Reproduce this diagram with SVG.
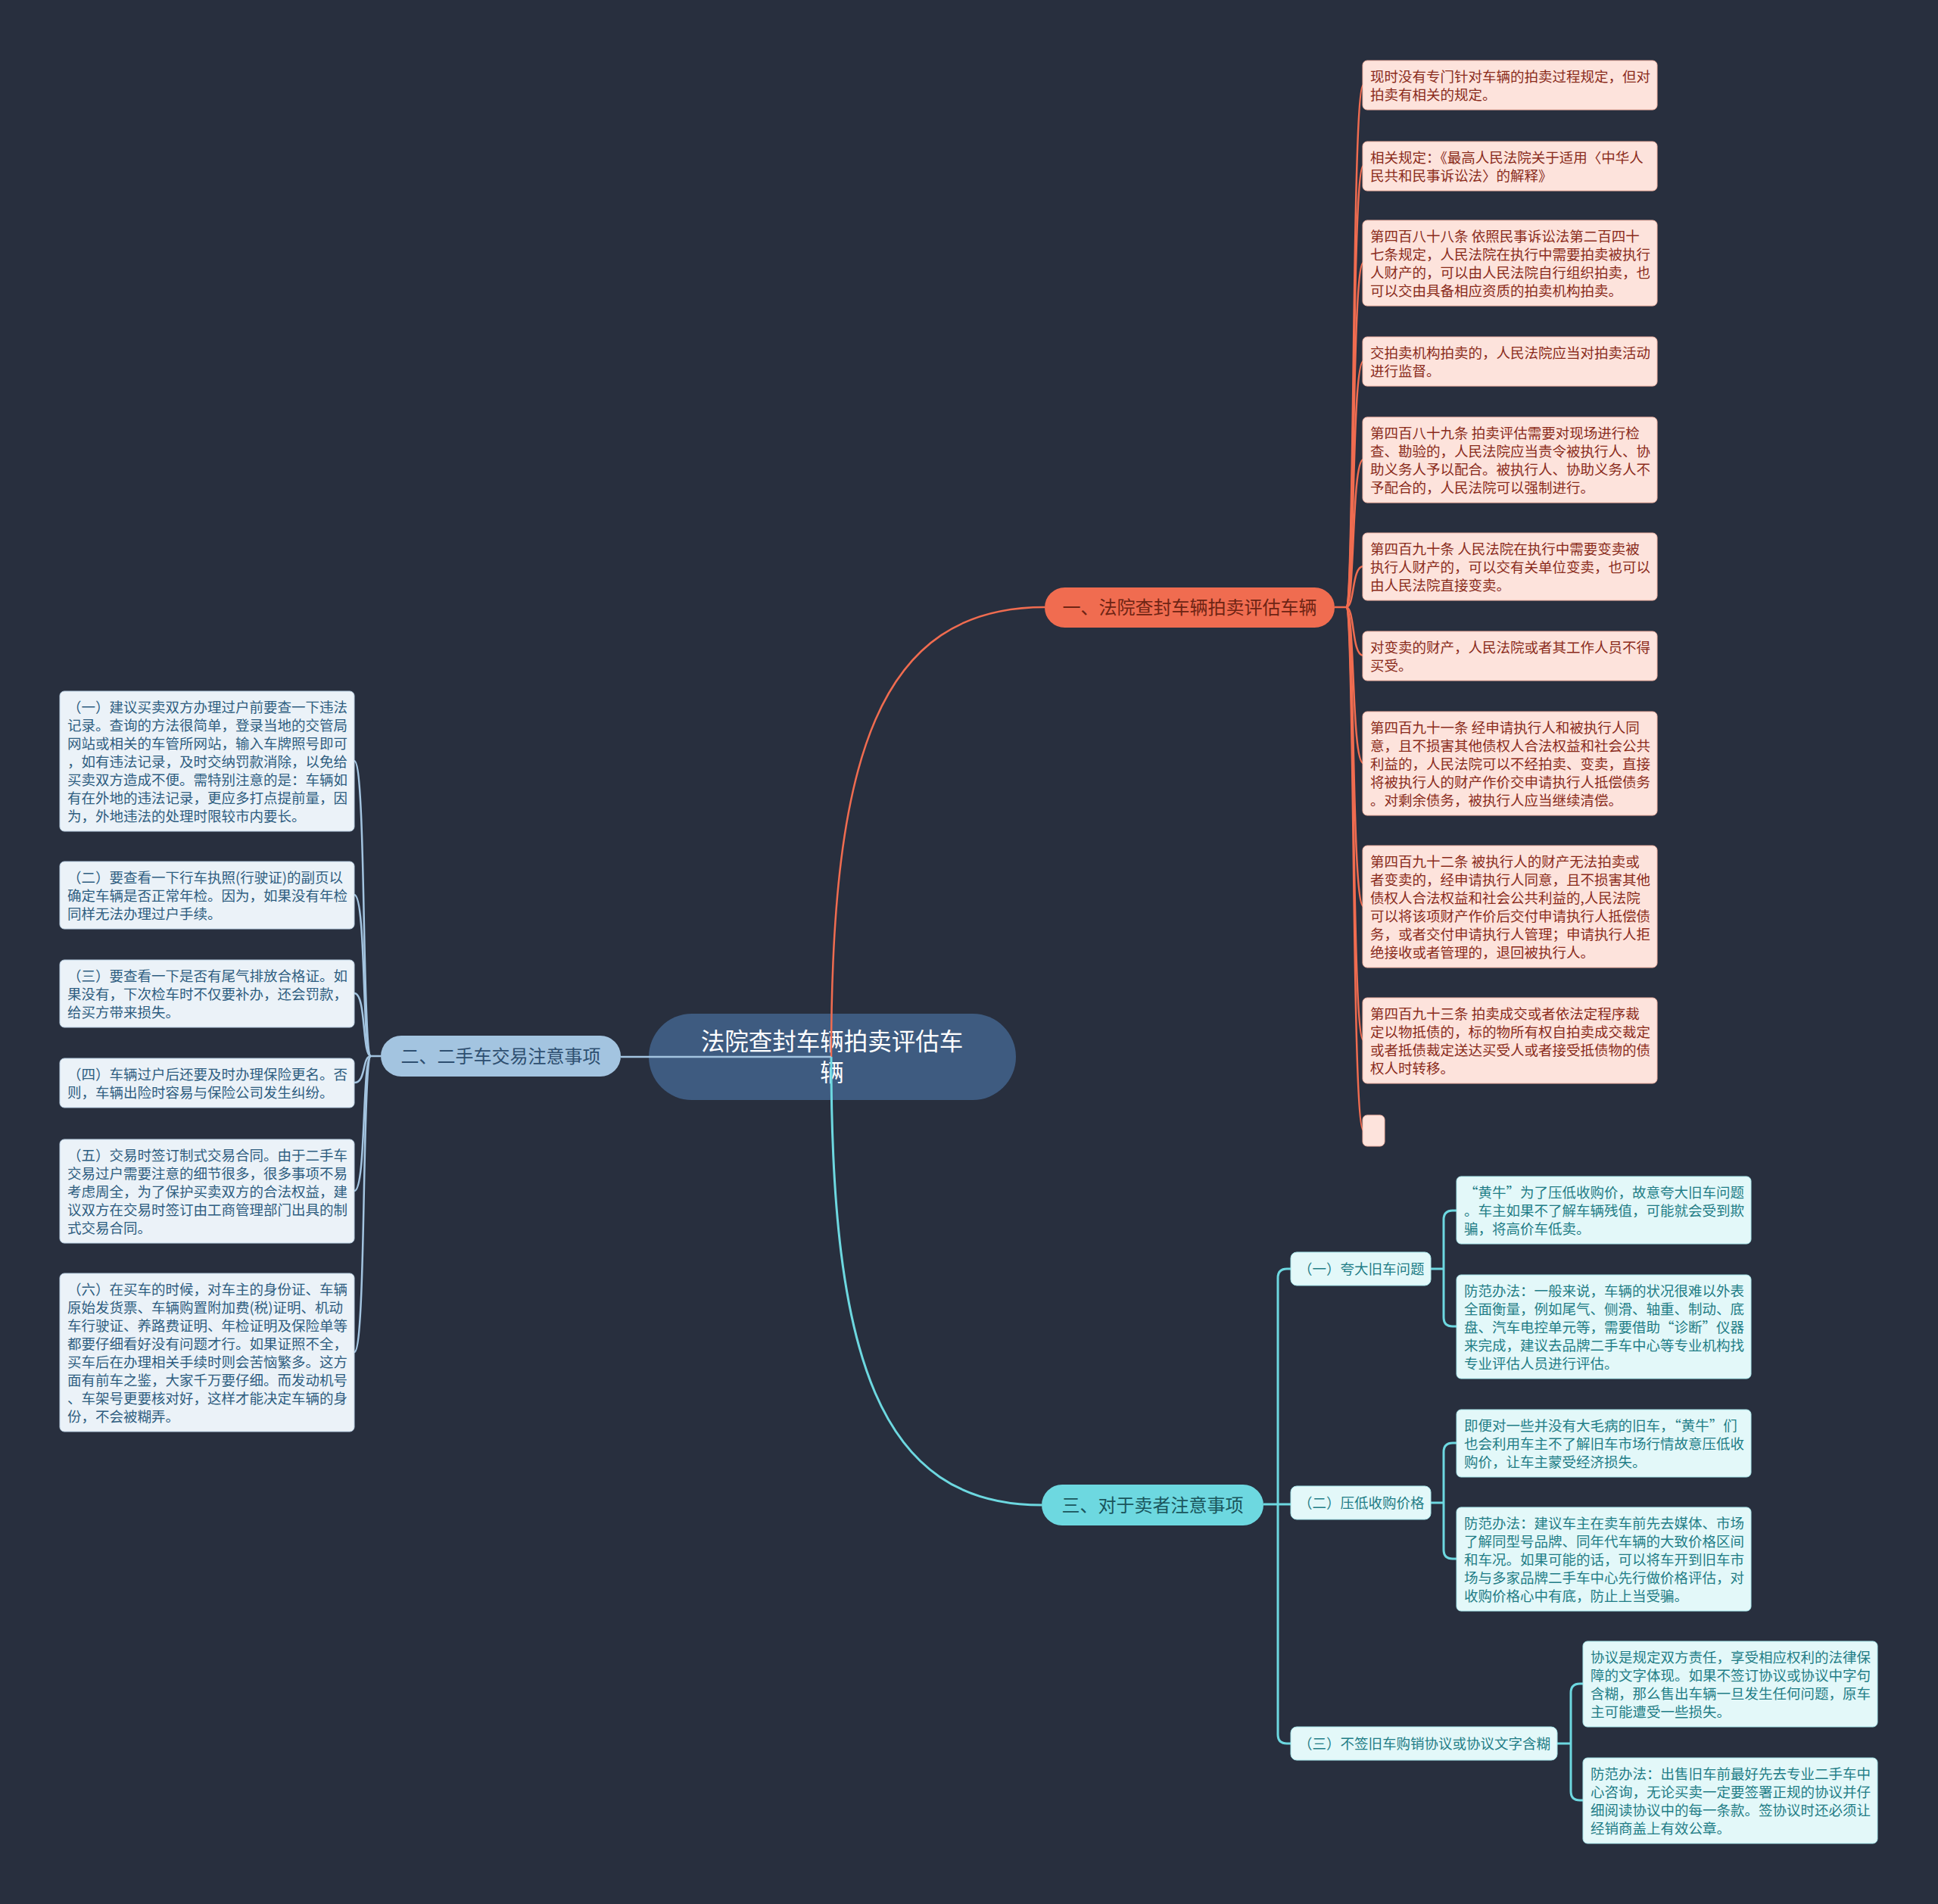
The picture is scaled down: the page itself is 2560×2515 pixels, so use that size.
<svg xmlns="http://www.w3.org/2000/svg" width="2560" height="2515" viewBox="0 0 2560 2515">
<style>
text{font-family:"Noto Sans CJK SC","Noto Sans",sans-serif}
.lt{font-size:18.5px}
.o-leaf{fill:#fde3dc;stroke:#f3b5a5;stroke-width:1}
.o-txt{fill:#8a2b1b}
.b-leaf{fill:#ebf2f8;stroke:#b9cfe2;stroke-width:1}
.b-txt{fill:#2e5d80}
.c-leaf{fill:#e3f8f9;stroke:#a6e6ea;stroke-width:1}
.c-txt{fill:#1f7d86}
.oc{fill:none;stroke:#f06c50;stroke-width:2.5}
.bc{fill:none;stroke:#a3c4e0;stroke-width:2.5}
.cc{fill:none;stroke:#6dd8e0;stroke-width:3}
.br{font-size:24px;text-anchor:middle}
</style>
<rect width="2560" height="2515" fill="#282f3e"/>
<g id="central">
<rect x="857" y="1339" width="485" height="114" rx="57" fill="#3e5b80"/>
<text x="1099" y="1387" font-size="31.5" fill="#ffffff" text-anchor="middle">法院查封车辆拍卖评估车</text>
<text x="1099" y="1428" font-size="31.5" fill="#ffffff" text-anchor="middle">辆</text>
</g>
<g id="connectors">
<path class="oc" d="M1098,1396 C1098,1000 1160,802 1380,802"/>
<path class="cc" d="M1098,1396 C1098,1790 1160,1988 1376,1988"/>
<path class="bc" d="M820,1396 L1098,1396"/>
<path class="oc" d="M1763,802 H1778"/>
<path class="oc" d="M1778,802 C1790,802 1785,112 1801,112"/>
<path class="oc" d="M1778,802 C1790,802 1785,219 1801,219"/>
<path class="oc" d="M1778,802 C1790,802 1785,347 1801,347"/>
<path class="oc" d="M1778,802 C1790,802 1785,477 1801,477"/>
<path class="oc" d="M1778,802 C1790,802 1785,607 1801,607"/>
<path class="oc" d="M1778,802 C1790,802 1785,748 1801,748"/>
<path class="oc" d="M1778,802 C1790,802 1785,866 1801,866"/>
<path class="oc" d="M1778,802 C1790,802 1785,1008 1801,1008"/>
<path class="oc" d="M1778,802 C1790,802 1785,1197 1801,1197"/>
<path class="oc" d="M1778,802 C1790,802 1785,1374 1801,1374"/>
<path class="oc" d="M1778,802 C1790,802 1785,1493 1801,1493"/>
<path class="bc" d="M503,1395 H490"/>
<path class="bc" d="M490,1395 C478,1395 484,1005 468,1005"/>
<path class="bc" d="M490,1395 C478,1395 484,1182 468,1182"/>
<path class="bc" d="M490,1395 C478,1395 484,1312 468,1312"/>
<path class="bc" d="M490,1395 C478,1395 484,1430 468,1430"/>
<path class="bc" d="M490,1395 C478,1395 484,1573 468,1573"/>
<path class="bc" d="M490,1395 C478,1395 484,1786 468,1786"/>
<path class="cc" d="M1669,1987 H1705"/>
<path class="cc" d="M1705,1676 H1700 Q1688,1676 1688,1688 V2291 Q1688,2303 1700,2303 H1705"/>
<path class="cc" d="M1889,1676 H1907"/>
<path class="cc" d="M1924,1599 H1919 Q1907,1599 1907,1611 V1740 Q1907,1752 1919,1752 H1924"/>
<path class="cc" d="M1889,1985 H1907"/>
<path class="cc" d="M1924,1906 H1919 Q1907,1906 1907,1918 V2047 Q1907,2059 1919,2059 H1924"/>
<path class="cc" d="M2057,2303 H2075"/>
<path class="cc" d="M2091,2224 H2087 Q2075,2224 2075,2236 V2366 Q2075,2378 2087,2378 H2091"/>
</g>
<g id="branch1">
<rect x="1380" y="776" width="383" height="53" rx="26.5" fill="#f06c50"/>
<text class="br" x="1571.5" y="810.5" fill="#6e2414">一、法院查封车辆拍卖评估车辆</text>
</g>
<g id="branch2">
<rect x="503" y="1368" width="317" height="54" rx="27" fill="#a3c4e0"/>
<text class="br" x="661.5" y="1403.5" fill="#2e4f70">二、二手车交易注意事项</text>
</g>
<g id="branch3">
<rect x="1376" y="1961" width="293" height="54" rx="27" fill="#6dd8e0"/>
<text class="br" x="1522.5" y="1996.5" fill="#1a555c">三、对于卖者注意事项</text>
</g>
<g id="b1-leaf1"><rect class="o-leaf" x="1800" y="80" width="389" height="65" rx="6"/>
<text class="lt o-txt"><tspan x="1810" y="108">现时没有专门针对车辆的拍卖过程规定，但对</tspan><tspan x="1810" y="132">拍卖有相关的规定。</tspan></text></g>
<g id="b1-leaf2"><rect class="o-leaf" x="1800" y="187" width="389" height="65" rx="6"/>
<text class="lt o-txt"><tspan x="1810" y="215">相关规定：《最高人民法院关于适用〈中华人</tspan><tspan x="1810" y="239">民共和民事诉讼法〉的解释》</tspan></text></g>
<g id="b1-leaf3"><rect class="o-leaf" x="1800" y="291" width="389" height="113" rx="6"/>
<text class="lt o-txt"><tspan x="1810" y="319">第四百八十八条 依照民事诉讼法第二百四十</tspan><tspan x="1810" y="343">七条规定，人民法院在执行中需要拍卖被执行</tspan><tspan x="1810" y="367">人财产的，可以由人民法院自行组织拍卖，也</tspan><tspan x="1810" y="391">可以交由具备相应资质的拍卖机构拍卖。</tspan></text></g>
<g id="b1-leaf4"><rect class="o-leaf" x="1800" y="445" width="389" height="65" rx="6"/>
<text class="lt o-txt"><tspan x="1810" y="473">交拍卖机构拍卖的，人民法院应当对拍卖活动</tspan><tspan x="1810" y="497">进行监督。</tspan></text></g>
<g id="b1-leaf5"><rect class="o-leaf" x="1800" y="551" width="389" height="113" rx="6"/>
<text class="lt o-txt"><tspan x="1810" y="579">第四百八十九条 拍卖评估需要对现场进行检</tspan><tspan x="1810" y="603">查、勘验的，人民法院应当责令被执行人、协</tspan><tspan x="1810" y="627">助义务人予以配合。被执行人、协助义务人不</tspan><tspan x="1810" y="651">予配合的，人民法院可以强制进行。</tspan></text></g>
<g id="b1-leaf6"><rect class="o-leaf" x="1800" y="704" width="389" height="89" rx="6"/>
<text class="lt o-txt"><tspan x="1810" y="732">第四百九十条 人民法院在执行中需要变卖被</tspan><tspan x="1810" y="756">执行人财产的，可以交有关单位变卖，也可以</tspan><tspan x="1810" y="780">由人民法院直接变卖。</tspan></text></g>
<g id="b1-leaf7"><rect class="o-leaf" x="1800" y="834" width="389" height="65" rx="6"/>
<text class="lt o-txt"><tspan x="1810" y="862">对变卖的财产，人民法院或者其工作人员不得</tspan><tspan x="1810" y="886">买受。</tspan></text></g>
<g id="b1-leaf8"><rect class="o-leaf" x="1800" y="940" width="389" height="137" rx="6"/>
<text class="lt o-txt"><tspan x="1810" y="968">第四百九十一条 经申请执行人和被执行人同</tspan><tspan x="1810" y="992">意，且不损害其他债权人合法权益和社会公共</tspan><tspan x="1810" y="1016">利益的，人民法院可以不经拍卖、变卖，直接</tspan><tspan x="1810" y="1040">将被执行人的财产作价交申请执行人抵偿债务</tspan><tspan x="1810" y="1064">。对剩余债务，被执行人应当继续清偿。</tspan></text></g>
<g id="b1-leaf9"><rect class="o-leaf" x="1800" y="1117" width="389" height="161" rx="6"/>
<text class="lt o-txt"><tspan x="1810" y="1145">第四百九十二条 被执行人的财产无法拍卖或</tspan><tspan x="1810" y="1169">者变卖的，经申请执行人同意，且不损害其他</tspan><tspan x="1810" y="1193">债权人合法权益和社会公共利益的,人民法院</tspan><tspan x="1810" y="1217">可以将该项财产作价后交付申请执行人抵偿债</tspan><tspan x="1810" y="1241">务，或者交付申请执行人管理；申请执行人拒</tspan><tspan x="1810" y="1265">绝接收或者管理的，退回被执行人。</tspan></text></g>
<g id="b1-leaf10"><rect class="o-leaf" x="1800" y="1318" width="389" height="113" rx="6"/>
<text class="lt o-txt"><tspan x="1810" y="1346">第四百九十三条 拍卖成交或者依法定程序裁</tspan><tspan x="1810" y="1370">定以物抵债的，标的物所有权自拍卖成交裁定</tspan><tspan x="1810" y="1394">或者抵债裁定送达买受人或者接受抵债物的债</tspan><tspan x="1810" y="1418">权人时转移。</tspan></text></g>
<g id="b1-leaf11"><rect class="o-leaf" x="1800" y="1473" width="29" height="41" rx="6"/></g>
<g id="b2-leaf1"><rect class="b-leaf" x="79" y="913" width="389" height="185" rx="6"/>
<text class="lt b-txt"><tspan x="89" y="941">（一）建议买卖双方办理过户前要查一下违法</tspan><tspan x="89" y="965">记录。查询的方法很简单，登录当地的交管局</tspan><tspan x="89" y="989">网站或相关的车管所网站，输入车牌照号即可</tspan><tspan x="89" y="1013">，如有违法记录，及时交纳罚款消除，以免给</tspan><tspan x="89" y="1037">买卖双方造成不便。需特别注意的是：车辆如</tspan><tspan x="89" y="1061">有在外地的违法记录，更应多打点提前量，因</tspan><tspan x="89" y="1085">为，外地违法的处理时限较市内要长。</tspan></text></g>
<g id="b2-leaf2"><rect class="b-leaf" x="79" y="1138" width="389" height="89" rx="6"/>
<text class="lt b-txt"><tspan x="89" y="1166">（二）要查看一下行车执照(行驶证)的副页以</tspan><tspan x="89" y="1190">确定车辆是否正常年检。因为，如果没有年检</tspan><tspan x="89" y="1214">同样无法办理过户手续。</tspan></text></g>
<g id="b2-leaf3"><rect class="b-leaf" x="79" y="1268" width="389" height="89" rx="6"/>
<text class="lt b-txt"><tspan x="89" y="1296">（三）要查看一下是否有尾气排放合格证。如</tspan><tspan x="89" y="1320">果没有，下次检车时不仅要补办，还会罚款，</tspan><tspan x="89" y="1344">给买方带来损失。</tspan></text></g>
<g id="b2-leaf4"><rect class="b-leaf" x="79" y="1398" width="389" height="65" rx="6"/>
<text class="lt b-txt"><tspan x="89" y="1426">（四）车辆过户后还要及时办理保险更名。否</tspan><tspan x="89" y="1450">则，车辆出险时容易与保险公司发生纠纷。</tspan></text></g>
<g id="b2-leaf5"><rect class="b-leaf" x="79" y="1505" width="389" height="137" rx="6"/>
<text class="lt b-txt"><tspan x="89" y="1533">（五）交易时签订制式交易合同。由于二手车</tspan><tspan x="89" y="1557">交易过户需要注意的细节很多，很多事项不易</tspan><tspan x="89" y="1581">考虑周全，为了保护买卖双方的合法权益，建</tspan><tspan x="89" y="1605">议双方在交易时签订由工商管理部门出具的制</tspan><tspan x="89" y="1629">式交易合同。</tspan></text></g>
<g id="b2-leaf6"><rect class="b-leaf" x="79" y="1682" width="389" height="209" rx="6"/>
<text class="lt b-txt"><tspan x="89" y="1710">（六）在买车的时候，对车主的身份证、车辆</tspan><tspan x="89" y="1734">原始发货票、车辆购置附加费(税)证明、机动</tspan><tspan x="89" y="1758">车行驶证、养路费证明、年检证明及保险单等</tspan><tspan x="89" y="1782">都要仔细看好没有问题才行。如果证照不全，</tspan><tspan x="89" y="1806">买车后在办理相关手续时则会苦恼繁多。这方</tspan><tspan x="89" y="1830">面有前车之鉴，大家千万要仔细。而发动机号</tspan><tspan x="89" y="1854">、车架号更要核对好，这样才能决定车辆的身</tspan><tspan x="89" y="1878">份，不会被糊弄。</tspan></text></g>
<g id="b3-sub1"><rect class="c-leaf" x="1705" y="1654" width="185" height="44" rx="8"/>
<text class="lt c-txt" x="1715" y="1682.5">（一）夸大旧车问题</text></g>
<g id="b3-sub2"><rect class="c-leaf" x="1705" y="1963" width="185" height="44" rx="8"/>
<text class="lt c-txt" x="1715" y="1991.5">（二）压低收购价格</text></g>
<g id="b3-sub3"><rect class="c-leaf" x="1705" y="2281" width="352" height="44" rx="8"/>
<text class="lt c-txt" x="1715" y="2309.5">（三）不签旧车购销协议或协议文字含糊</text></g>
<g id="b3-leaf1"><rect class="c-leaf" x="1924" y="1554" width="389" height="89" rx="6"/>
<text class="lt c-txt"><tspan x="1934" y="1582">“黄牛”为了压低收购价，故意夸大旧车问题</tspan><tspan x="1934" y="1606">。车主如果不了解车辆残值，可能就会受到欺</tspan><tspan x="1934" y="1630">骗，将高价车低卖。</tspan></text></g>
<g id="b3-leaf2"><rect class="c-leaf" x="1924" y="1684" width="389" height="137" rx="6"/>
<text class="lt c-txt"><tspan x="1934" y="1712">防范办法：一般来说，车辆的状况很难以外表</tspan><tspan x="1934" y="1736">全面衡量，例如尾气、侧滑、轴重、制动、底</tspan><tspan x="1934" y="1760">盘、汽车电控单元等，需要借助“诊断”仪器</tspan><tspan x="1934" y="1784">来完成，建议去品牌二手车中心等专业机构找</tspan><tspan x="1934" y="1808">专业评估人员进行评估。</tspan></text></g>
<g id="b3-leaf3"><rect class="c-leaf" x="1924" y="1862" width="389" height="89" rx="6"/>
<text class="lt c-txt"><tspan x="1934" y="1890">即便对一些并没有大毛病的旧车，“黄牛”们</tspan><tspan x="1934" y="1914">也会利用车主不了解旧车市场行情故意压低收</tspan><tspan x="1934" y="1938">购价，让车主蒙受经济损失。</tspan></text></g>
<g id="b3-leaf4"><rect class="c-leaf" x="1924" y="1991" width="389" height="137" rx="6"/>
<text class="lt c-txt"><tspan x="1934" y="2019">防范办法：建议车主在卖车前先去媒体、市场</tspan><tspan x="1934" y="2043">了解同型号品牌、同年代车辆的大致价格区间</tspan><tspan x="1934" y="2067">和车况。如果可能的话，可以将车开到旧车市</tspan><tspan x="1934" y="2091">场与多家品牌二手车中心先行做价格评估，对</tspan><tspan x="1934" y="2115">收购价格心中有底，防止上当受骗。</tspan></text></g>
<g id="b3-leaf5"><rect class="c-leaf" x="2091" y="2168" width="389" height="113" rx="6"/>
<text class="lt c-txt"><tspan x="2101" y="2196">协议是规定双方责任，享受相应权利的法律保</tspan><tspan x="2101" y="2220">障的文字体现。如果不签订协议或协议中字句</tspan><tspan x="2101" y="2244">含糊，那么售出车辆一旦发生任何问题，原车</tspan><tspan x="2101" y="2268">主可能遭受一些损失。</tspan></text></g>
<g id="b3-leaf6"><rect class="c-leaf" x="2091" y="2322" width="389" height="113" rx="6"/>
<text class="lt c-txt"><tspan x="2101" y="2350">防范办法：出售旧车前最好先去专业二手车中</tspan><tspan x="2101" y="2374">心咨询，无论买卖一定要签署正规的协议并仔</tspan><tspan x="2101" y="2398">细阅读协议中的每一条款。签协议时还必须让</tspan><tspan x="2101" y="2422">经销商盖上有效公章。</tspan></text></g>
</svg>
